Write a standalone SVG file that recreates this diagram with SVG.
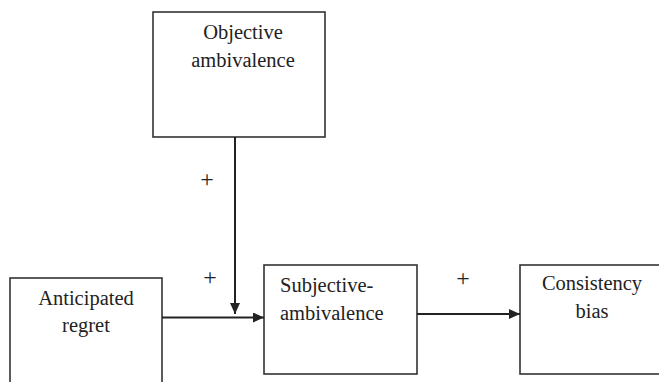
<svg xmlns="http://www.w3.org/2000/svg" width="659" height="382" viewBox="0 0 659 382">
<defs>
<marker id="ah" markerWidth="12" markerHeight="12" refX="11" refY="5" orient="auto" markerUnits="userSpaceOnUse">
<path d="M0,0 L11,5 L0,10 Z" fill="#222"/>
</marker>
<style>
.box{fill:#fff;stroke:#333;stroke-width:1.6}
.t{font-size:20.5px;fill:#222}
.c{text-anchor:middle}
.p{font-size:24px;fill:#222;text-anchor:middle}
.ln{stroke:#222;stroke-width:2;fill:none}
</style>
</defs>
<rect width="659" height="382" fill="#fff"/>
<g font-family="'Liberation Serif', 'Times New Roman', 'DejaVu Serif', serif">
<g id="objective">
<rect class="box" x="153" y="12" width="172" height="125"/>
<text class="t c" x="243" y="39">Objective</text>
<text class="t c" x="243" y="67">ambivalence</text>
</g>
<g id="anticipated">
<rect class="box" x="10" y="278" width="152" height="120"/>
<text class="t c" x="86" y="305">Anticipated</text>
<text class="t c" x="86" y="332">regret</text>
</g>
<g id="subjective">
<rect class="box" x="264" y="265" width="153" height="109"/>
<text class="t" x="280" y="292">Subjective-</text>
<text class="t" x="280" y="320">ambivalence</text>
</g>
<g id="consistency">
<rect class="box" x="520" y="265" width="150" height="109"/>
<text class="t c" x="592" y="290">Consistency</text>
<text class="t c" x="592" y="318">bias</text>
</g>
<g id="connectors">
<line class="ln" x1="235" y1="137" x2="235" y2="314" marker-end="url(#ah)"/>
<line class="ln" x1="162" y1="317.5" x2="264" y2="317.5" marker-end="url(#ah)"/>
<line class="ln" x1="417" y1="314" x2="520" y2="314" marker-end="url(#ah)"/>
<text class="p" x="207" y="187">+</text>
<text class="p" x="210" y="285">+</text>
<text class="p" x="463" y="286">+</text>
</g>
</g>
</svg>
